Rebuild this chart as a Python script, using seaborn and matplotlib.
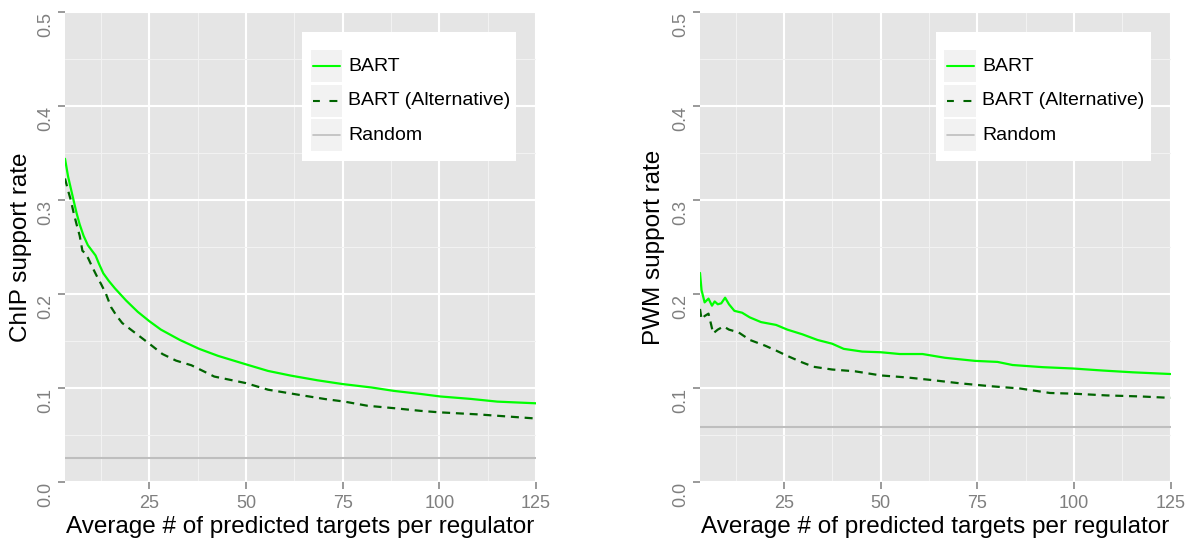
import matplotlib
matplotlib.use("Agg")
import matplotlib.pyplot as plt
from matplotlib.patches import Rectangle
from matplotlib.lines import Line2D
from matplotlib.ticker import MultipleLocator, FormatStrFormatter
import pandas as pd
import seaborn as sns

# ---- ChIP support rate (left panel) ----
chip_bart_x = [3.2, 4.0, 4.7, 5.4, 6.2, 7.0, 8.0, 9.1, 10.0, 11.1, 12.0, 13.1, 14.5,
               16.1, 19.0, 22.0, 25.0, 28.0, 32.9, 37.9, 42.8, 50.0, 55.7, 61.6,
               68.5, 75.0, 82.4, 88.3, 95.3, 100.2, 108.1, 115.0, 125.0]
chip_bart_y = [0.344, 0.325, 0.3125, 0.300, 0.286, 0.274, 0.262, 0.252, 0.247, 0.241,
               0.232, 0.222, 0.214, 0.206, 0.193, 0.181, 0.171, 0.162, 0.151, 0.1415,
               0.134, 0.125, 0.118, 0.113, 0.108, 0.104, 0.1004, 0.0967, 0.0934,
               0.0908, 0.0882, 0.0853, 0.0835]
chip_alt_x = [3.2, 4.0, 4.7, 5.4, 6.2, 7.0, 7.7, 8.5, 9.2, 10.1, 11.3, 12.6, 13.8,
              15.1, 16.5, 18.0, 21.5, 25.0, 28.4, 31.9, 35.9, 41.8, 50.0, 55.7,
              63.6, 70.5, 75.5, 81.4, 88.3, 95.3, 100.0, 110.0, 125.0]
chip_alt_y = [0.323, 0.310, 0.300, 0.287, 0.274, 0.262, 0.246, 0.243, 0.238, 0.230,
              0.220, 0.210, 0.200, 0.186, 0.177, 0.169, 0.158, 0.147, 0.136, 0.129,
              0.124, 0.112, 0.105, 0.098, 0.0926, 0.088, 0.0853, 0.0809, 0.0783,
              0.0754, 0.0739, 0.0717, 0.0673]
chip_random = 0.025

# ---- PWM support rate (right panel) ----
pwm_bart_x = [3.2, 3.6, 4.4, 5.4, 6.3, 7.0, 7.8, 8.7, 9.7, 10.7, 12.1, 14.1, 16.1,
              19.0, 22.9, 25.8, 29.7, 33.6, 37.4, 40.4, 45.2, 50.0, 54.9, 60.8,
              66.6, 74.4, 80.2, 84.1, 91.9, 99.7, 107.5, 115.3, 125.0]
pwm_bart_y = [0.2224, 0.204, 0.191, 0.195, 0.1875, 0.192, 0.189, 0.190, 0.196, 0.189,
              0.182, 0.180, 0.175, 0.170, 0.167, 0.162, 0.157, 0.151, 0.147, 0.1415,
              0.1386, 0.1379, 0.136, 0.136, 0.132, 0.1287, 0.1276, 0.1243, 0.122,
              0.1206, 0.1184, 0.1165, 0.1147]
pwm_alt_x = [3.2, 3.6, 4.4, 5.4, 6.1, 6.6, 7.8, 9.3, 10.7, 13.2, 16.1, 20.0, 22.9,
             25.8, 29.7, 32.6, 37.4, 43.3, 50.0, 56.9, 62.7, 70.5, 78.2, 86.0,
             93.8, 99.7, 108.5, 117.3, 125.0]
pwm_alt_y = [0.184, 0.173, 0.1765, 0.179, 0.167, 0.158, 0.162, 0.1654, 0.162, 0.159,
             0.151, 0.145, 0.1397, 0.134, 0.127, 0.1224, 0.1195, 0.1176, 0.1132,
             0.111, 0.1085, 0.1048, 0.1018, 0.0993, 0.0945, 0.0938, 0.0919, 0.0908,
             0.0893]
pwm_random = 0.058

methods = ["BART", "BART (Alternative)", "Random"]
method_colors = {"BART": "#00FF00", "BART (Alternative)": "#006400", "Random": "#BEBEBE"}
y_titles = ["ChIP support rate", "PWM support rate"]
x_title = "Average # of predicted targets per regulator"
x_max = 125
y_max = 0.5

DASH = (3.6, 2.6)
GREY50 = "#7F7F7F"


def long_frame(bx, by, ax_, ay):
    return pd.concat([
        pd.DataFrame({"targets": bx, "rate": by, "method": "BART"}),
        pd.DataFrame({"targets": ax_, "rate": ay, "method": "BART (Alternative)"}),
    ], ignore_index=True)


panels = [
    (long_frame(chip_bart_x, chip_bart_y, chip_alt_x, chip_alt_y), chip_random, y_titles[0]),
    (long_frame(pwm_bart_x, pwm_bart_y, pwm_alt_x, pwm_alt_y), pwm_random, y_titles[1]),
]

sns.set_theme(style="darkgrid")
plt.rcParams["font.family"] = ["Liberation Sans", "DejaVu Sans"]

W, H = 1189, 542
fig = plt.figure(figsize=(W / 100, H / 100), dpi=100)
# panel rectangles in pixels: left, right, top, bottom
rects = [(65, 536, 12.3, 481.7), (700, 1170.5, 12.3, 481.7)]
# right edge of the rotated y title, in pixels
ytitle_right = [31.7, 665]
# legend box (left, top, width, height) relative to the panel's top-left corner
legend_boxes = [(237, 19.7, 214, 129), (235.7, 19.7, 215, 129)]


def draw_legend(ax, box_px):
    """ggplot-style legend: white box with grey key cells."""
    bb = ax.get_window_extent()
    aw, ah = bb.width, bb.height

    def fx(px):
        return px / aw

    def fy(py):
        return 1 - py / ah

    bl, bt, bw, bh = box_px
    ax.add_patch(Rectangle((fx(bl), fy(bt + bh)), fx(bw), bh / ah,
                           transform=ax.transAxes, fc="white", ec="none",
                           zorder=6, clip_on=False))
    key_tops = [18.3, 52.8, 87.3]
    key_h = 31.7
    key_l, key_w = 8.5, 31.8
    styles = [dict(ls="-", lw=1.5),
              dict(ls=(0.5, (3.8, 4.6)), lw=1.5),
              dict(ls="-", lw=1.2)]
    for m, kt, st in zip(methods, key_tops, styles):
        ax.add_patch(Rectangle((fx(bl + key_l), fy(bt + kt + key_h)), fx(key_w), key_h / ah,
                               transform=ax.transAxes, fc="#F2F2F2", ec="none",
                               zorder=7, clip_on=False))
        yc = fy(bt + kt + key_h / 2)
        ax.add_line(Line2D([fx(bl + key_l + 2.5), fx(bl + key_l + key_w - 2.5)], [yc, yc],
                           transform=ax.transAxes, color=method_colors[m], zorder=8,
                           clip_on=False, **st))
        ax.text(fx(bl + 46.5), yc, m, transform=ax.transAxes, fontsize=14,
                color="black", ha="left", va="center", zorder=9)


for (df, rnd, ytitle), (l, r, t, b), ytr, lbox in zip(panels, rects, ytitle_right, legend_boxes):
    ax = fig.add_axes([l / W, 1 - b / H, (r - l) / W, (b - t) / H])
    ax.set_facecolor("#E5E5E5")
    sns.lineplot(data=df, x="targets", y="rate", hue="method", style="method",
                 palette=method_colors,
                 dashes={"BART": "", "BART (Alternative)": DASH},
                 estimator=None, sort=False, linewidth=1.6, legend=False, ax=ax, zorder=3)
    ax.axhline(rnd, color=method_colors["Random"], lw=1.5, zorder=2)

    ax.set_xlim(df["targets"].min(), x_max)
    ax.set_ylim(0, y_max)
    ax.xaxis.set_major_locator(MultipleLocator(25))
    ax.xaxis.set_minor_locator(MultipleLocator(12.5))
    ax.yaxis.set_major_locator(MultipleLocator(0.1))
    ax.yaxis.set_minor_locator(MultipleLocator(0.05))
    ax.yaxis.set_major_formatter(FormatStrFormatter("%.1f"))
    ax.grid(which="major", color="white", lw=1.5)
    ax.grid(which="minor", color="#F2F2F2", lw=0.8)
    ax.set_axisbelow(True)
    for s in ax.spines.values():
        s.set_visible(False)

    ax.tick_params(which="major", length=5, width=1.1, color=GREY50,
                   labelcolor=GREY50, labelsize=13, bottom=True, left=True)
    ax.tick_params(axis="x", pad=4.5)
    ax.tick_params(axis="y", pad=3, labelrotation=90)
    ax.tick_params(which="minor", length=0)
    for lab in ax.get_yticklabels():
        lab.set_va("top")

    aw, ah = r - l, b - t
    ax.set_xlabel(x_title, fontsize=17.5, color="black")
    ax.set_ylabel(ytitle, fontsize=17.5, color="black")
    ax.xaxis.set_label_coords(0.5, -(516 - b) / ah)
    ax.xaxis.label.set_va("top")
    ax.yaxis.set_label_coords((ytr - l) / aw, 0.5)

    draw_legend(ax, lbox)

fig.savefig("out.png", dpi=100)
